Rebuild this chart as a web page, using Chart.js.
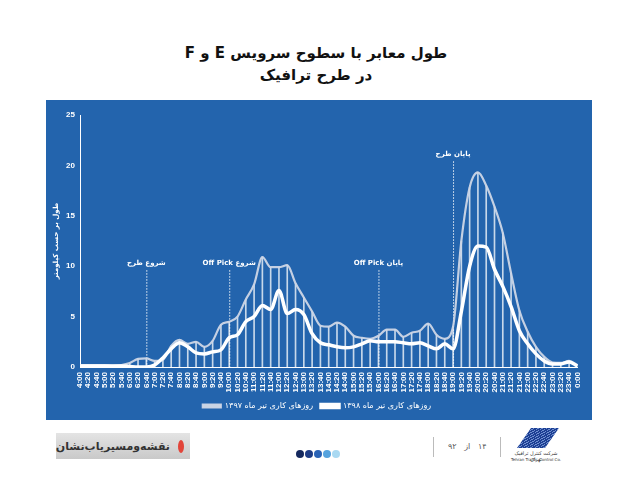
<!DOCTYPE html>
<html lang="fa">
<head>
<meta charset="utf-8">
<script src="https://cdn.jsdelivr.net/npm/chart.js@4.4.1/dist/chart.umd.min.js"></script>
<style>
  html, body { margin: 0; padding: 0; background: #fff; width: 632px; height: 490px; overflow: hidden; font-family: "DejaVu Sans", sans-serif; }
  #title { position: absolute; left: 0; top: 42px; width: 632px; text-align: center; direction: rtl; font-weight: bold; font-size: 15px; line-height: 22px; color: #111; }
  #panel { position: absolute; left: 46px; top: 100px; width: 546px; height: 320px; background: #2364ad; }
  .brand { position: absolute; left: 56px; top: 433px; width: 134px; height: 26px; background: linear-gradient(#e4e4e4, #c9c9c9); direction: rtl; display: flex; align-items: center; }
  .ring { width: 13px; height: 13px; border-radius: 50%; border: 3px solid #e2453a; background: #20a88f; margin: 0 6px 0 8px; box-sizing: border-box; }
  .brand-text { font-weight: bold; font-size: 11px; color: #333; white-space: nowrap; }
  .dots { position: absolute; left: 296px; top: 443px; }
  .dots i { display: inline-block; width: 8px; height: 8px; border-radius: 50%; margin-right: 1px; }
  .sep { position: absolute; top: 437px; width: 1px; height: 20px; background: #bbb; }
  .page { position: absolute; left: 448px; top: 442px; direction: rtl; font-size: 8px; color: #555; }
  .logo { position: absolute; left: 510px; top: 428px; width: 52px; height: 36px; }
  .logo .mark { position: absolute; left: 14px; top: 0; width: 28px; height: 20px; transform: skewX(-35deg); background: repeating-linear-gradient(135deg, #1d3f93 0 2px, #6f8fd0 2px 3px); }
  .logo .fa { position: absolute; left: 0; top: 22px; width: 52px; font-size: 5px; text-align: center; direction: rtl; color: #333; }
  .logo .en { position: absolute; left: 0; top: 29px; width: 52px; font-size: 4px; text-align: center; color: #333; }
</style>
</head>
<body>
<div id="title">طول معابر با سطوح سرویس E و F<br>در طرح ترافیک</div>
<div id="panel"><canvas id="chart-len" width="546" height="320"></canvas></div>

<div class="brand"><span class="ring"></span><span class="brand-text">نقشه‌ومسیریاب‌نشان</span></div>
<div class="dots"><i style="background:#15295e"></i><i style="background:#1d3c86"></i><i style="background:#2a63b6"></i><i style="background:#56a3de"></i><i style="background:#a9d9f2"></i></div>
<div class="sep" style="left:433px"></div>
<div class="page">۱۴ &nbsp; از &nbsp; ۹۲</div>
<div class="sep" style="left:500px"></div>
<div class="logo"><div class="mark"></div><div class="fa">شرکت کنترل ترافیک تهران</div><div class="en">Tehran Traffic Control Co.</div></div>

<script>
var timeLabels = ['4:00','4:20','4:40','5:00','5:20','5:40','6:00','6:20','6:40','7:00','7:20','7:40',
    '8:00','8:20','8:40','9:00','9:20','9:40','10:00','10:20','10:40','11:00','11:20','11:40',
    '12:00','12:20','12:40','13:00','13:20','13:40','14:00','14:20','14:40','15:00','15:20','15:40',
    '16:00','16:20','16:40','17:00','17:20','17:40','18:00','18:20','18:40','19:00','19:20','19:40',
    '20:00','20:20','20:40','21:00','21:20','21:40','22:00','22:20','22:40','23:00','23:20','23:40','0:00'];

// طول معابر (کیلومتر) - روزهای کاری تیر ماه ۱۳۹۷
var km1397 = [0.2, 0.2, 0.2, 0.2, 0.15, 0.2,
    0.4, 0.8, 0.85, 0.6, 0.7, 2.1,
    2.7, 2.3, 2.5, 2.0, 2.6, 4.2,
    4.5, 5.0, 6.7, 8.2, 10.9, 9.9,
    9.9, 10.1, 8.3, 6.9, 5.5, 4.1,
    4.0, 4.4, 4.0, 3.1, 2.9, 2.8,
    3.1, 3.7, 3.7, 3.0, 3.4, 3.6,
    4.3, 3.2, 2.8, 4.0, 12.5, 17.8,
    19.3, 18.0, 15.9, 13.3, 9.3, 5.6,
    3.5, 2.0, 1.0, 0.45, 0.4, 0.6,
    0.2];

// روزهای کاری تیر ماه ۱۳۹۸
var km1398 = [0.1, 0.1, 0.1, 0.1, 0.1, 0.1,
    0.05, 0.0, 0.0, 0.2, 0.9, 1.8,
    2.4, 2.0, 1.4, 1.3, 1.5, 1.7,
    2.9, 3.2, 4.5, 5.0, 6.1, 5.7,
    7.6, 5.3, 5.7, 5.2, 3.3, 2.4,
    2.2, 2.0, 1.9, 2.0, 2.3, 2.6,
    2.5, 2.5, 2.5, 2.4, 2.3, 2.4,
    2.1, 1.8, 2.3, 1.8, 5.5, 10.0,
    12.0, 11.9, 9.7, 8.0, 6.0, 3.6,
    2.3, 1.3, 0.6, 0.3, 0.3, 0.5,
    0.1];

var markerTimes = ['6:40', '10:00', '16:00', '19:00'];
var markerTexts = ['شروع طرح', 'شروع Off Pick', 'پایان Off Pick', 'پایان طرح'];
var markerLevels = [10.3, 10.3, 10.3, 21.1];

const markerPlugin = {
    id: 'markers',
    beforeDatasetsDraw(chart) {
        const {ctx, scales: {x, y}} = chart;
        ctx.save();
        markerTimes.forEach((t, k) => {
            const px = x.getPixelForValue(timeLabels.indexOf(t));
            const ty = y.getPixelForValue(markerLevels[k]);
            ctx.strokeStyle = 'rgba(255,255,255,0.9)';
            ctx.lineWidth = 1;
            ctx.setLineDash([1.5, 1.5]);
            ctx.beginPath();
            ctx.moveTo(px + 0.5, ty + 7);
            ctx.lineTo(px + 0.5, y.getPixelForValue(0));
            ctx.stroke();
            ctx.setLineDash([]);
            ctx.fillStyle = '#ffffff';
            ctx.font = 'bold 7px "DejaVu Sans"';
            ctx.textAlign = 'center';
            ctx.textBaseline = 'middle';
            ctx.direction = 'rtl';
            ctx.fillText(markerTexts[k], px, ty);
        });
        ctx.restore();
    }
};

Chart.defaults.font.family = '"Liberation Sans", "DejaVu Sans", sans-serif';
Chart.defaults.color = '#ffffff';

const ctxLen = document.getElementById('chart-len').getContext('2d');

const chartLen = new Chart(ctxLen, {
    type: 'line',
    data: {
        labels: timeLabels,
        datasets: [{
            label: 'روزهای کاری تیر ماه ۱۳۹۷',
            data: km1397,
            borderColor: 'rgba(205, 214, 230, 0.95)',
            backgroundColor: 'rgba(205, 214, 230, 0.95)',
            borderWidth: 2.2,
            pointRadius: 0,
            cubicInterpolationMode: 'monotone',
            order: 2
        }, {
            label: 'روزهای کاری تیر ماه ۱۳۹۸',
            data: km1398,
            borderColor: '#ffffff',
            backgroundColor: '#ffffff',
            borderWidth: 3.5,
            pointRadius: 0,
            cubicInterpolationMode: 'monotone',
            order: 1
        }, {
            type: 'bar',
            label: 'bars',
            data: km1397,
            backgroundColor: 'rgba(255, 255, 255, 0.75)',
            barThickness: 1,
            order: 3
        }]
    },
    options: {
        responsive: false,
        animation: false,
        layout: { padding: { top: 15, right: 8, left: 4, bottom: 0 } },
        plugins: {
            tooltip: { enabled: false },
            legend: {
                position: 'bottom',
                labels: {
                    color: '#ffffff',
                    font: { size: 8, family: '"DejaVu Sans", sans-serif' },
                    boxWidth: 18,
                    boxHeight: 3,
                    padding: 8,
                    filter: (item) => item.datasetIndex < 2,
                    sort: (a, b) => a.datasetIndex - b.datasetIndex
                }
            }
        },
        scales: {
            x: {
                offset: false,
                grid: { display: false, drawTicks: false },
                border: { color: '#ffffff', width: 1 },
                ticks: {
                    autoSkip: false,
                    minRotation: 90,
                    maxRotation: 90,
                    padding: 5,
                    color: '#ffffff',
                    font: { size: 8, weight: 'bold' }
                },
                afterFit: (axis) => { axis.height = 27; }
            },
            y: {
                min: 0,
                max: 25,
                grid: { display: false, drawTicks: false },
                border: { color: '#ffffff', width: 1 },
                ticks: {
                    stepSize: 5,
                    padding: 5,
                    color: '#ffffff',
                    font: { size: 8, weight: 'bold' }
                },
                title: {
                    display: true,
                    text: 'طول بر حسب کیلومتر',
                    color: '#ffffff',
                    padding: { top: 2, bottom: 2 },
                    font: { size: 7, weight: 'bold', family: '"DejaVu Sans", sans-serif' }
                },
                afterFit: (axis) => { axis.width = 30; }
            }
        }
    },
    plugins: [markerPlugin]
});
</script>
</body>
</html>
